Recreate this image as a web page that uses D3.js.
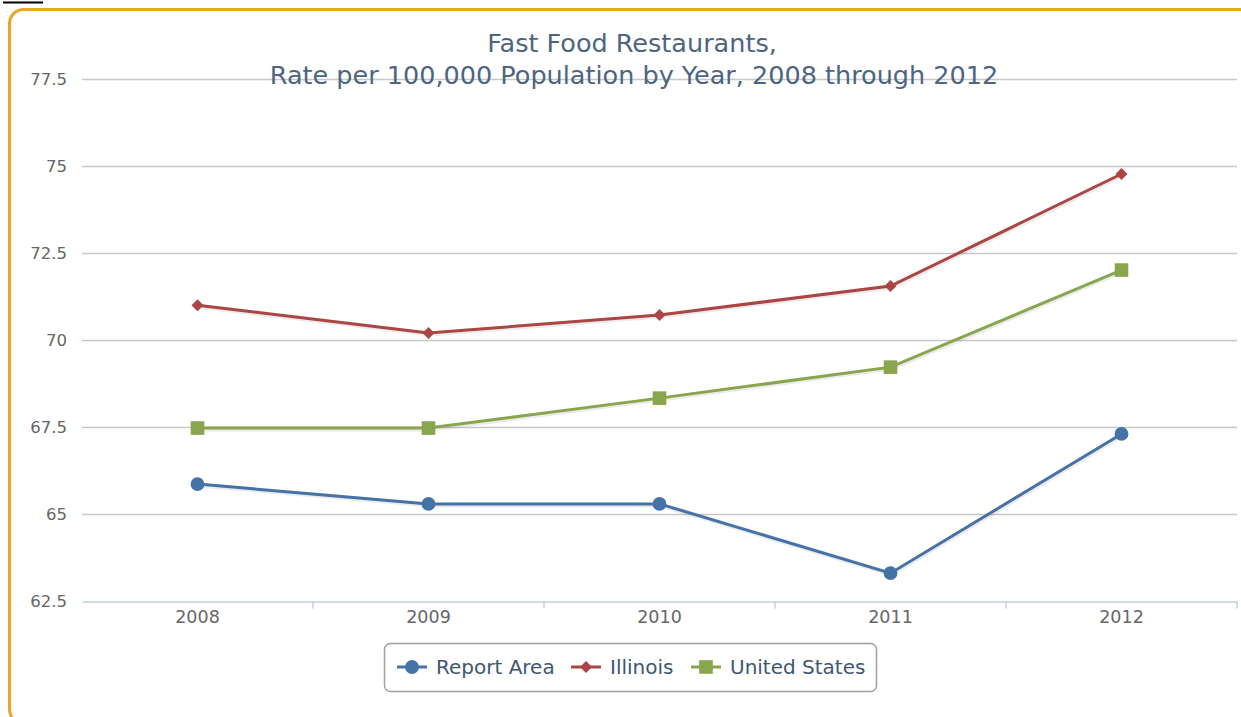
<!DOCTYPE html>
<html lang="en">
<head>
  <meta charset="UTF-8">
  <script src="https://cdn.jsdelivr.net/npm/d3@7"></script>
  <title>Fast Food Restaurants</title>
  <style>
    body { margin: 0; background: #fff; }
    svg { display: block; }
  </style>
</head>
<body>
  <svg width="1241" height="717"></svg>
  <script>
    // data
    var years = ["2008", "2009", "2010", "2011", "2012"];
    var reportArea = [65.86, 65.29, 65.29, 63.3, 67.3];
    var illinois = [71.0, 70.2, 70.72, 71.55, 74.77];
    var unitedStates = [67.47, 67.47, 68.33, 69.22, 72.01];
    var yTicks = [62.5, 65, 67.5, 70, 72.5, 75, 77.5];
    var seriesNames = ["Report Area", "Illinois", "United States"];

    var colors = ["#4572A7", "#AA4643", "#89A54E"];
    var symbols = [d3.symbolCircle, d3.symbolSquare, d3.symbolSquare];
    var symbolSizes = [150, 72, 185];
    var symbolRotate = [0, 45, 0];
    var series = [reportArea, illinois, unitedStates];

    var svg = d3.select("svg");
    var font = "'DejaVu Sans', sans-serif";

    // frame (cut off at the edges of the screenshot)
    svg.append("line")
      .attr("x1", 3).attr("x2", 43).attr("y1", 2.5).attr("y2", 2.5)
      .attr("stroke", "#000").attr("stroke-width", 2);
    svg.append("rect")
      .attr("x", 9.5).attr("y", 9.5)
      .attr("width", 1245).attr("height", 714)
      .attr("rx", 14)
      .attr("fill", "#fff")
      .attr("stroke", "#E9A623").attr("stroke-width", 3);

    // scales
    var x = d3.scaleBand().domain(years).range([82, 1237]);
    var y = d3.scaleLinear().domain([62.5, 77.5]).range([601, 79]);
    var cx = function(d) { return x(d) + x.bandwidth() / 2; };

    // grid
    svg.append("g").selectAll("line")
      .data(yTicks.slice(1))
      .enter().append("line")
      .attr("x1", 82).attr("x2", 1237)
      .attr("y1", function(d) { return y(d) + 0.5; })
      .attr("y2", function(d) { return y(d) + 0.5; })
      .attr("stroke", "#C8C8C8").attr("stroke-width", 1.5);

    // y labels
    svg.append("g").selectAll("text")
      .data(yTicks)
      .enter().append("text")
      .attr("x", 67)
      .attr("y", function(d) { return y(d) + 6; })
      .attr("text-anchor", "end")
      .attr("fill", "#666")
      .style("font", "16.5px " + font)
      .text(function(d) { return d; });

    // x axis
    var xAxis = d3.axisBottom(x).tickSize(0).tickPadding(9);
    var gx = svg.append("g").attr("transform", "translate(0,601.5)").call(xAxis);
    gx.select(".domain").attr("stroke", "#C0D0E0").attr("stroke-width", 1.5);
    gx.selectAll("text").attr("fill", "#666").style("font", "17.5px " + font);
    gx.selectAll(".bound")
      .data(years.slice(1).concat(["end"]))
      .enter().append("line")
      .attr("x1", function(d, i) { return 82 + x.step() * (i + 1); })
      .attr("x2", function(d, i) { return 82 + x.step() * (i + 1); })
      .attr("y1", 0).attr("y2", 7)
      .attr("stroke", "#C0D0E0").attr("stroke-width", 1.5);

    // title
    var title = svg.append("text")
      .attr("text-anchor", "middle")
      .attr("fill", "#4D6580")
      .style("font", "25.5px " + font);
    title.append("tspan").attr("x", 632).attr("y", 52).text("Fast Food Restaurants,");
    title.append("tspan").attr("x", 634).attr("y", 84).text("Rate per 100,000 Population by Year, 2008 through 2012");

    // lines
    var line = d3.line()
      .x(function(d, i) { return cx(years[i]); })
      .y(function(d) { return y(d); });

    var gs = svg.selectAll(".series")
      .data(series)
      .enter().append("g");

    gs.append("path")
      .attr("d", function(d) { return line(d); })
      .attr("fill", "none")
      .attr("stroke", "rgba(0,0,0,0.08)")
      .attr("stroke-width", 5)
      .attr("transform", "translate(1,1)");

    gs.append("path")
      .attr("d", function(d) { return line(d); })
      .attr("fill", "none")
      .attr("stroke", function(d, i) { return colors[i]; })
      .attr("stroke-width", 3);

    gs.each(function(s, si) {
      d3.select(this).selectAll("path.marker")
        .data(s)
        .enter().append("path")
        .attr("class", "marker")
        .attr("d", d3.symbol().type(symbols[si]).size(symbolSizes[si]))
        .attr("transform", function(d, i) {
          return "translate(" + cx(years[i]) + "," + y(d) + ") rotate(" + symbolRotate[si] + ")";
        })
        .attr("fill", colors[si]);
    });

    // legend
    var legend = svg.append("g");
    legend.append("rect")
      .attr("x", 384.5).attr("y", 643.5)
      .attr("width", 492).attr("height", 48)
      .attr("rx", 6)
      .attr("fill", "#fff")
      .attr("stroke", "#A0A0A0").attr("stroke-width", 1.5);

    var legendX = [397, 571, 691];
    var items = legend.selectAll(".item")
      .data(seriesNames)
      .enter().append("g")
      .attr("transform", function(d, i) { return "translate(" + legendX[i] + ",667)"; });
    items.append("line")
      .attr("x1", 0).attr("x2", 30)
      .attr("stroke", function(d, i) { return colors[i]; })
      .attr("stroke-width", 3);
    items.append("path")
      .attr("d", function(d, i) { return d3.symbol().type(symbols[i]).size(symbolSizes[i])(); })
      .attr("transform", function(d, i) { return "translate(15,0) rotate(" + symbolRotate[i] + ")"; })
      .attr("fill", function(d, i) { return colors[i]; });
    items.append("text")
      .attr("x", 39).attr("y", 7)
      .attr("fill", "#3E576F")
      .style("font", "20px " + font)
      .text(function(d) { return d; });
  </script>
</body>
</html>
